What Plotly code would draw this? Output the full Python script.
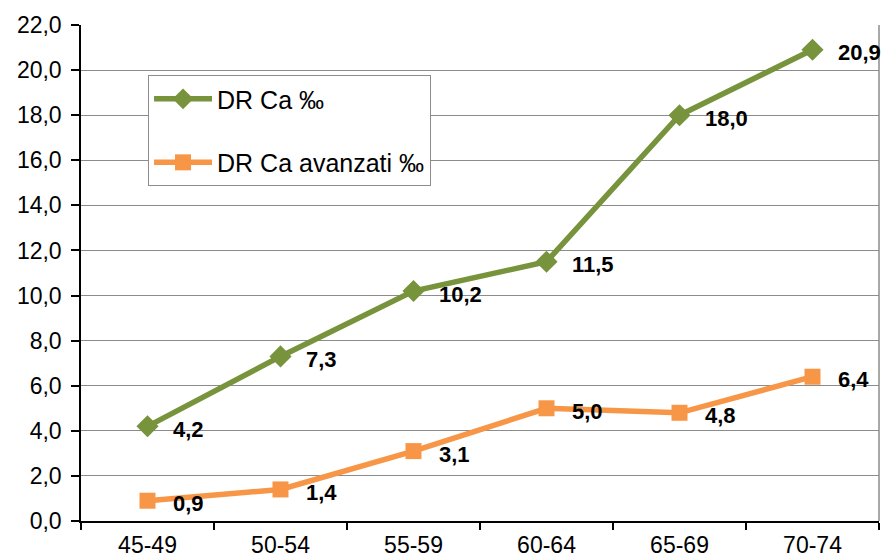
import plotly.graph_objects as go

categories = ["45-49", "50-54", "55-59", "60-64", "65-69", "70-74"]
dr_ca = [4.2, 7.3, 10.2, 11.5, 18.0, 20.9]
dr_ca_avanzati = [0.9, 1.4, 3.1, 5.0, 4.8, 6.4]
series_names = ["DR Ca ‰", "DR Ca avanzati ‰"]
y_ticks = [0, 2, 4, 6, 8, 10, 12, 14, 16, 18, 20, 22]

GREEN = "#77933C"
ORANGE = "#F79646"
FONT = "Liberation Sans, Arial, sans-serif"

fig = go.Figure()
fig.add_trace(go.Scatter(
    x=categories, y=dr_ca, name=series_names[0], mode="lines+markers",
    line=dict(color=GREEN, width=5.5), legendgroup="a",
    marker=dict(symbol="diamond", size=17, color=GREEN),
))
fig.add_trace(go.Scatter(
    x=categories, y=dr_ca_avanzati, name=series_names[1], mode="lines+markers",
    line=dict(color=ORANGE, width=5.5), legendgroup="b",
    marker=dict(symbol="square", size=16, color=ORANGE),
))

def fmt(v):
    return f"{v:.1f}".replace(".", ",")

for vals in (dr_ca, dr_ca_avanzati):
    for c, v in zip(categories, vals):
        fig.add_annotation(
            x=c, y=v, text=fmt(v), showarrow=False, xanchor="left", yanchor="middle",
            xshift=23, yshift=-3,
            font=dict(family=FONT, size=22, color="black", weight="bold"),
        )

fig.add_shape(type="line", xref="paper", yref="paper", x0=1, x1=1, y0=0, y1=1,
              line=dict(color="#8C8C8C", width=1.5))

fig.update_layout(
    width=885, height=558,
    margin=dict(l=81, r=6, t=25, b=37, pad=0),
    paper_bgcolor="white", plot_bgcolor="white",
    separators=",.",
    font=dict(family=FONT, size=23, color="black"),
    showlegend=True,
    legend=dict(
        x=0.084, y=0.899, xanchor="left", yanchor="top",
        bgcolor="white", bordercolor="#8C8C8C", borderwidth=1,
        font=dict(family=FONT, size=25, color="black"),
        traceorder="grouped", tracegroupgap=28,
        itemwidth=58,
    ),
    xaxis=dict(
        type="category", range=[-0.5, 5.5], showgrid=False, automargin=False,
        showline=True, linecolor="black", linewidth=1.5,
        ticks="outside", tickson="boundaries", ticklen=7, tickcolor="black", tickwidth=1.5,
        tickfont=dict(family=FONT, size=23), ticklabelstandoff=3,
    ),
    yaxis=dict(
        range=[0, 22], tickvals=y_ticks, tickformat=".1f", automargin=False,
        showgrid=True, gridcolor="#8C8C8C", gridwidth=1.2,
        showline=True, linecolor="black", linewidth=1.5,
        ticks="outside", ticklen=8, tickcolor="black", tickwidth=1.5,
        tickfont=dict(family=FONT, size=23), zeroline=False, ticklabelstandoff=5,
    ),
)

fig.write_html("out.html", config={"displayModeBar": False},
               post_script="document.body.style.margin='0';")
